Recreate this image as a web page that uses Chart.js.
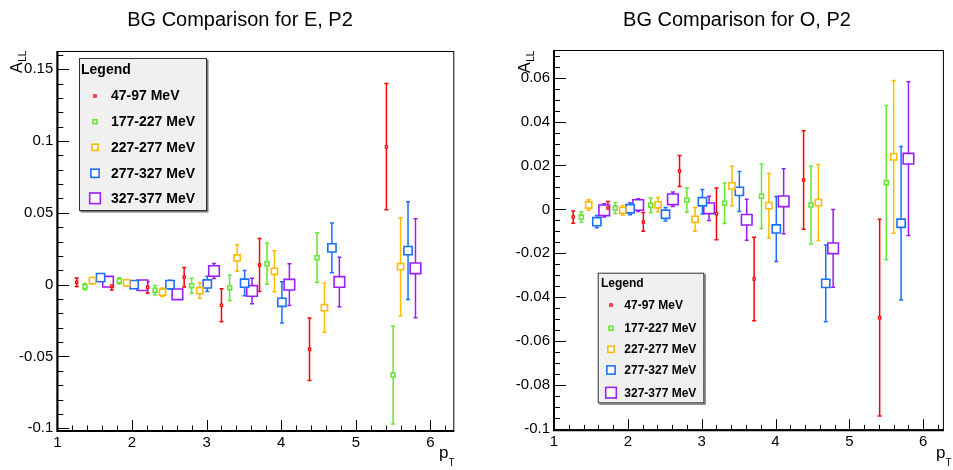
<!DOCTYPE html>
<html>
<head>
<meta charset="utf-8">
<title>BG Comparison</title>
<script src="https://cdn.jsdelivr.net/npm/chart.js@4.4.0/dist/chart.umd.min.js"></script>
<style>
  html, body { margin: 0; padding: 0; background: #fff; }
  #wrap { position: relative; width: 953px; height: 470px; overflow: hidden; }
  #wrap canvas { position: absolute; top: 0; }
</style>
</head>
<body>
<div id="wrap">
  <canvas id="chart-e" width="476" height="470" style="left:0px"></canvas>
  <canvas id="chart-o" width="477" height="470" style="left:476px"></canvas>
</div>
<script>
// --- data ---
const seriesLabels = ['47-97 MeV', '177-227 MeV', '227-277 MeV', '277-327 MeV', '327-377 MeV'];
const seriesColors = ['#ff0000', '#66e633', '#ffbb00', '#1a6fff', '#9a1cff'];
const markerRadius = [1.6, 2.8, 4.4, 5.8, 7.5];

// pT positions (each energy bin is shifted a little)
const ptRed    = [1.26, 1.73, 2.21, 2.70, 3.20, 3.71, 4.38, 5.41];
const ptGreen  = [1.37, 1.83, 2.31, 2.80, 3.31, 3.81, 4.48, 5.50];
const ptOrange = [1.47, 1.93, 2.41, 2.91, 3.41, 3.91, 4.58, 5.60];
const ptBlue   = [1.58, 2.03, 2.51, 3.01, 3.51, 4.01, 4.68, 5.70];
const ptPurple = [1.68, 2.14, 2.61, 3.10, 3.61, 4.11, 4.78, 5.80];

// E, P2
const eRed       = [0.0017, -0.0009, -0.0018, 0.0052, -0.0143, 0.0137, -0.0450, 0.0961];
const eRedErr    = [0.0030, 0.0028, 0.0040, 0.0068, 0.0115, 0.0185, 0.0217, 0.0439];
const eGreen     = [-0.0014, 0.0026, -0.0039, -0.0007, -0.0021, 0.0146, 0.0188, -0.0629];
const eGreenErr  = [0.0022, 0.0022, 0.0033, 0.0052, 0.0089, 0.0144, 0.0173, 0.0342];
const eOrange    = [0.0028, 0.0012, -0.0053, -0.0042, 0.0186, 0.0093, -0.0160, 0.0125];
const eOrangeErr = [0.0022, 0.0022, 0.0030, 0.0053, 0.0092, 0.0143, 0.0171, 0.0341];
const eBlue      = [0.0049, 0.0000, 0.0000, 0.0005, 0.0010, -0.0123, 0.0256, 0.0237];
const eBlueErr   = [0.0025, 0.0025, 0.0030, 0.0053, 0.0088, 0.0144, 0.0173, 0.0341];
const ePurple    = [0.0021, -0.0004, -0.0067, 0.0095, -0.0044, 0.0000, 0.0019, 0.0114];
const ePurpleErr = [0.0025, 0.0025, 0.0030, 0.0052, 0.0089, 0.0145, 0.0172, 0.0345];

// O, P2
const oRed       = [-0.0035, 0.0006, -0.0057, 0.0175, -0.0020, -0.0317, 0.0134, -0.0493];
const oRedErr    = [0.0028, 0.0030, 0.0043, 0.0071, 0.0118, 0.0190, 0.0224, 0.0448];
const oGreen     = [-0.0035, 0.0006, 0.0019, 0.0043, 0.0028, 0.0060, 0.0020, 0.0122];
const oGreenErr  = [0.0024, 0.0025, 0.0033, 0.0056, 0.0092, 0.0147, 0.0177, 0.0351];
const oOrange    = [0.0020, -0.0004, 0.0021, -0.0045, 0.0107, 0.0017, 0.0031, 0.0239];
const oOrangeErr = [0.0024, 0.0022, 0.0033, 0.0054, 0.0090, 0.0147, 0.0173, 0.0348];
const oBlue      = [-0.0056, 0.0003, -0.0022, 0.0035, 0.0082, -0.0089, -0.0337, -0.0063];
const oBlueErr   = [0.0028, 0.0027, 0.0031, 0.0056, 0.0091, 0.0148, 0.0175, 0.0350];
const oPurple    = [-0.0004, 0.0020, 0.0046, 0.0005, -0.0047, 0.0037, -0.0177, 0.0231];
const oPurpleErr = [0.0030, 0.0029, 0.0033, 0.0055, 0.0093, 0.0148, 0.0177, 0.0350];

// axes
const xTickValues = [1, 2, 3, 4, 5, 6];
const yTickValuesE = [-0.1, -0.05, 0, 0.05, 0.1, 0.15];
const yTickValuesO = [-0.1, -0.08, -0.06, -0.04, -0.02, 0, 0.02, 0.04, 0.06];

(function() {
    'use strict';

    const FONT = "'Liberation Sans', Arial, Helvetica, sans-serif";

    function makeDatasets(xs, ys, errs) {
        return seriesLabels.map(function(label, s) {
            return {
                label: label,
                data: xs[s].map((x, i) => ({ x: x, y: ys[s][i] })),
                errors: errs[s],
                borderColor: seriesColors[s],
                pointBorderColor: seriesColors[s],
                pointBackgroundColor: '#ffffff',
                pointStyle: 'rect',
                pointRadius: markerRadius[s],
                pointBorderWidth: s === 0 ? 1.2 : 1.6,
                showLine: false
            };
        });
    }

    // error bars, frame, ROOT-like inner ticks, titles and boxed legend
    const rootLook = {
        id: 'rootLook',
        beforeDatasetsDraw(chart) {
            const ctx = chart.ctx;
            const xs = chart.scales.x, ys = chart.scales.y;
            chart.data.datasets.forEach(function(ds) {
                ctx.save();
                ctx.strokeStyle = ds.borderColor;
                ctx.lineWidth = 1.5;
                ds.data.forEach(function(p, i) {
                    const e = ds.errors[i];
                    const px = xs.getPixelForValue(p.x);
                    const top = ys.getPixelForValue(p.y + e);
                    const bot = ys.getPixelForValue(p.y - e);
                    ctx.beginPath();
                    ctx.moveTo(px, top); ctx.lineTo(px, bot);
                    ctx.moveTo(px - 2, top); ctx.lineTo(px + 2, top);
                    ctx.moveTo(px - 2, bot); ctx.lineTo(px + 2, bot);
                    ctx.stroke();
                });
                ctx.restore();
            });
        },
        afterDraw(chart, args, opts) {
            const ctx = chart.ctx;
            const a = chart.chartArea;
            const xs = chart.scales.x, ys = chart.scales.y;
            ctx.save();

            // frame
            ctx.strokeStyle = '#000';
            ctx.lineWidth = 1;
            ctx.strokeRect(a.left + 0.5, a.top + 0.5, a.right - a.left - 1, a.bottom - a.top - 1);
            ctx.lineWidth = 2;
            ctx.beginPath();
            ctx.moveTo(a.left, a.top); ctx.lineTo(a.left, a.bottom); ctx.lineTo(a.right, a.bottom);
            ctx.stroke();

            // ticks inside the frame
            ctx.lineWidth = 1;
            ctx.beginPath();
            drawTicks(ctx, xs, opts.xMajor, opts.xMinor, function(px, len) {
                ctx.moveTo(Math.round(px) + 0.5, a.bottom); ctx.lineTo(Math.round(px) + 0.5, a.bottom - len);
            }, 11, 5.5);
            drawTicks(ctx, ys, opts.yMajor, opts.yMinor, function(py, len) {
                ctx.moveTo(a.left, Math.round(py) + 0.5); ctx.lineTo(a.left + len, Math.round(py) + 0.5);
            }, 12, 6);
            ctx.stroke();

            // title
            ctx.fillStyle = '#000';
            ctx.font = '20px ' + FONT;
            ctx.textAlign = 'center';
            ctx.textBaseline = 'middle';
            ctx.fillText(opts.title, opts.titleX, 20);

            // y title  A_LL
            ctx.save();
            ctx.translate(opts.yTitleX, 73);
            ctx.rotate(-Math.PI / 2);
            ctx.textAlign = 'left';
            ctx.textBaseline = 'alphabetic';
            ctx.font = '16px ' + FONT;
            ctx.fillText('A', 0, 0);
            const aw = ctx.measureText('A').width;
            ctx.font = '10px ' + FONT;
            ctx.fillText('LL', aw + 0.5, 4);
            ctx.restore();

            // x title  p_T
            ctx.textAlign = 'left';
            ctx.textBaseline = 'alphabetic';
            ctx.font = '17px ' + FONT;
            ctx.fillText('p', opts.xTitleX, 458);
            const pw = ctx.measureText('p').width;
            ctx.font = '10px ' + FONT;
            ctx.fillText('T', opts.xTitleX + pw, 466);

            drawLegend(ctx, chart, opts.legend);
            ctx.restore();
        }
    };

    function drawTicks(ctx, scale, majors, step, line, majorLen, minorLen) {
        const start = Math.ceil(scale.min / step - 1e-6);
        const end = Math.floor(scale.max / step + 1e-6);
        for (let k = start; k <= end; k++) {
            const v = Math.round(k * step * 1e6) / 1e6;
            const isMajor = majors.some(m => Math.abs(m - v) < 1e-6);
            line(scale.getPixelForValue(v), isMajor ? majorLen : minorLen);
        }
    }

    function drawLegend(ctx, chart, lg) {
        // shadow + box
        ctx.fillStyle = '#777';
        ctx.fillRect(lg.left + 1.5, lg.top + 1.5, lg.right - lg.left, lg.bottom - lg.top);
        ctx.fillStyle = '#f0f0f0';
        ctx.fillRect(lg.left, lg.top, lg.right - lg.left, lg.bottom - lg.top);
        ctx.strokeStyle = '#333';
        ctx.lineWidth = 1;
        ctx.strokeRect(lg.left + 0.5, lg.top + 0.5, lg.right - lg.left - 1, lg.bottom - lg.top - 1);

        ctx.fillStyle = '#000';
        ctx.textAlign = 'left';
        ctx.textBaseline = 'middle';
        ctx.font = 'bold ' + lg.headerSize + 'px ' + FONT;
        ctx.fillText('Legend', lg.headerX, lg.headerY);

        ctx.font = 'bold ' + lg.itemSize + 'px ' + FONT;
        chart.data.datasets.forEach(function(ds, i) {
            const y = lg.rows[i];
            const half = ds.pointRadius * Math.SQRT1_2;
            ctx.fillStyle = '#fff';
            ctx.fillRect(lg.markerX - half, y - half, 2 * half, 2 * half);
            ctx.strokeStyle = ds.pointBorderColor;
            ctx.lineWidth = ds.pointBorderWidth;
            ctx.strokeRect(lg.markerX - half, y - half, 2 * half, 2 * half);
            ctx.fillStyle = '#000';
            ctx.fillText(ds.label, lg.textX, y + 0.5);
        });
    }

    function buildChart(canvasId, cfg) {
        const canvas = document.getElementById(canvasId);
        return new Chart(canvas.getContext('2d'), {
            type: 'scatter',
            data: { datasets: cfg.datasets },
            options: {
                responsive: false,
                animation: false,
                devicePixelRatio: 1,
                layout: { padding: cfg.padding },
                scales: {
                    x: {
                        type: 'linear',
                        min: cfg.xMin, max: cfg.xMax,
                        afterFit: s => { s.height = cfg.xAxisHeight; },
                        afterBuildTicks: s => { s.ticks = xTickValues.map(v => ({ value: v })); },
                        grid: { display: false, drawTicks: false },
                        border: { display: false },
                        ticks: { color: '#000', padding: 3, maxRotation: 0, autoSkip: false,
                                 font: { family: FONT, size: 15 } }
                    },
                    y: {
                        type: 'linear',
                        min: cfg.yMin, max: cfg.yMax,
                        afterFit: s => { s.width = cfg.yAxisWidth; },
                        afterBuildTicks: s => { s.ticks = cfg.yTicks.map(v => ({ value: v })); },
                        grid: { display: false, drawTicks: false },
                        border: { display: false },
                        ticks: { color: '#000', padding: 4, autoSkip: false,
                                 font: { family: FONT, size: 15 },
                                 callback: v => String(Math.round(v * 1000) / 1000) }
                    }
                },
                plugins: {
                    legend: { display: false },
                    tooltip: { enabled: false },
                    title: { display: false },
                    rootLook: cfg.look
                }
            },
            plugins: [rootLook]
        });
    }

    buildChart('chart-e', {
        datasets: makeDatasets(
            [ptRed, ptGreen, ptOrange, ptBlue, ptPurple],
            [eRed, eGreen, eOrange, eBlue, ePurple],
            [eRedErr, eGreenErr, eOrangeErr, eBlueErr, ePurpleErr]),
        padding: { top: 51, right: 21.7, left: 0, bottom: 0 },
        xAxisHeight: 39, yAxisWidth: 57.3,
        xMin: 1, xMax: 6.32, yMin: -0.1019, yMax: 0.1627,
        yTicks: yTickValuesE,
        look: {
            title: 'BG Comparison for E, P2', titleX: 240,
            yTitleX: 22, xTitleX: 439,
            xMajor: xTickValues, xMinor: 0.2, yMajor: yTickValuesE, yMinor: 0.01,
            legend: { left: 79, top: 58, right: 207, bottom: 211, headerSize: 14, itemSize: 14,
                      headerX: 81, headerY: 70, markerX: 95, textX: 111,
                      rows: [96, 121.7, 147.3, 173.3, 198.3] }
        }
    });

    buildChart('chart-o', {
        datasets: makeDatasets(
            [ptRed, ptGreen, ptOrange, ptBlue, ptPurple],
            [oRed, oGreen, oOrange, oBlue, oPurple],
            [oRedErr, oGreenErr, oOrangeErr, oBlueErr, oPurpleErr]),
        padding: { top: 50, right: 7, left: 0, bottom: 0 },
        xAxisHeight: 39.7, yAxisWidth: 78,
        xMin: 1, xMax: 6.28, yMin: -0.1006, yMax: 0.0726,
        yTicks: yTickValuesO,
        look: {
            title: 'BG Comparison for O, P2', titleX: 261,
            yTitleX: 54, xTitleX: 460,
            xMajor: xTickValues, xMinor: 0.2, yMajor: yTickValuesO, yMinor: 0.005,
            legend: { left: 121.7, top: 272.7, right: 228.3, bottom: 403.3, headerSize: 12, itemSize: 12,
                      headerX: 125, headerY: 284, markerX: 135, textX: 148.3,
                      rows: [305, 328.3, 349.3, 370, 392.7] }
        }
    });
})();
</script>
</body>
</html>
